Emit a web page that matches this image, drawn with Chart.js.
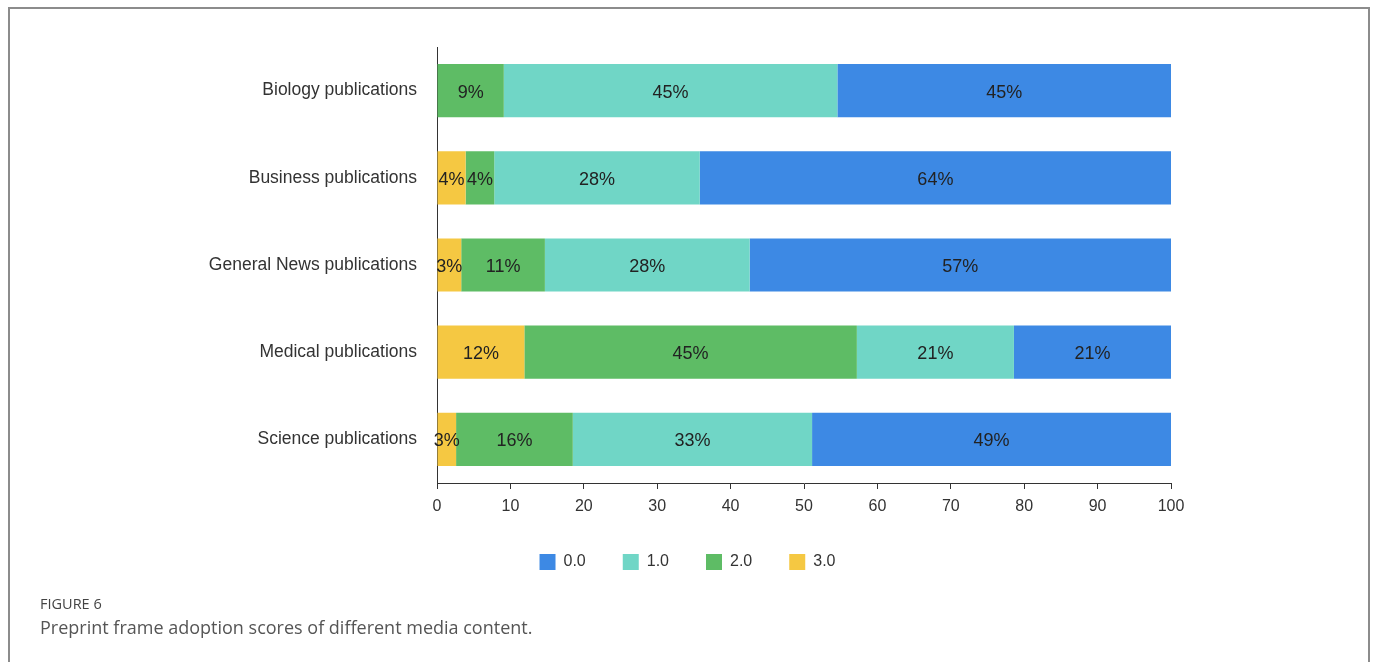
<!DOCTYPE html>
<html>
<head>
<meta charset="utf-8">
<script src="https://cdn.jsdelivr.net/npm/chart.js@4.4.1/dist/chart.umd.min.js"></script>
<style>
  html, body { margin: 0; padding: 0; background: #fff; width: 1375px; height: 662px; overflow: hidden; }
  #frame { position: absolute; left: 8px; top: 7px; width: 1362px; height: 680px; border: 2px solid #8c8c8c; box-sizing: border-box; }
  #wrap { position: absolute; left: 0; top: 0; width: 1375px; height: 600px; }
  #figLabel { position: absolute; left: 40px; top: 594px; font: 500 14.5px "Open Sans", sans-serif; color: #444; }
  #caption { position: absolute; left: 40px; top: 615px; font: 400 18px "Open Sans", sans-serif; color: #555; }
</style>
</head>
<body>
<div id="frame"></div>
<div id="wrap"><canvas id="chart" width="1375" height="600"></canvas></div>
<div id="figLabel">FIGURE 6</div>
<div id="caption">Preprint frame adoption scores of different media content.</div>
<script>
const categories = [
  "Biology publications",
  "Business publications",
  "General News publications",
  "Medical publications",
  "Science publications"
];
// percentage share of each adoption score, per category
const score0 = [45.45, 64.2, 57.4, 21.4, 48.9];
const score1 = [45.45, 28.0, 27.9, 21.4, 32.6];
const score2 = [9.1, 3.9, 11.4, 45.3, 15.9];
const score3 = [0, 3.9, 3.3, 11.9, 2.6];
const xTicks = [0, 10, 20, 30, 40, 50, 60, 70, 80, 90, 100];

const FONT = '"Liberation Sans", Arial, sans-serif';

// draws the "NN%" text in the middle of each segment
const barLabels = {
  id: "barLabels",
  afterDatasetsDraw(chart) {
    const ctx = chart.ctx;
    ctx.save();
    ctx.font = "18px " + FONT;
    ctx.fillStyle = "#222";
    ctx.textAlign = "center";
    ctx.textBaseline = "middle";
    chart.data.datasets.forEach((ds, i) => {
      const meta = chart.getDatasetMeta(i);
      meta.data.forEach((bar, j) => {
        const v = ds.data[j];
        if (!v) return;
        const p = bar.getCenterPoint();
        ctx.fillText(Math.round(v) + "%", p.x, p.y + 2);
      });
    });
    ctx.restore();
  }
};

const ctx = document.getElementById("chart").getContext("2d");
new Chart(ctx, {
  type: "bar",
  data: {
    labels: categories,
    datasets: [
      // "order" puts score 3 at the left end of the stack
      { label: "0.0", data: score0, backgroundColor: "rgb(61,137,228)", order: 4 },
      { label: "1.0", data: score1, backgroundColor: "rgb(112,214,198)", order: 3 },
      { label: "2.0", data: score2, backgroundColor: "rgb(94,188,101)", order: 2 },
      { label: "3.0", data: score3, backgroundColor: "rgb(245,200,66)", order: 1 }
    ]
  },
  options: {
    indexAxis: "y",
    responsive: false,
    animation: false,
    devicePixelRatio: 1,
    datasets: {
      bar: { categoryPercentage: 1, barPercentage: 0.61, borderWidth: 0 }
    },
    layout: { padding: { left: 204, right: 204, top: 47, bottom: 20 } },
    scales: {
      x: {
        stacked: true,
        min: 0,
        max: 100,
        afterBuildTicks: (s) => { s.ticks = xTicks.map(v => ({ value: v })); },
        afterFit: (s) => { s.height = 34; },
        grid: { drawOnChartArea: false, tickLength: 6, color: "#333", lineWidth: 1 },
        border: { color: "#333", width: 1 },
        ticks: { color: "#333", font: { family: FONT, size: 16 }, padding: 8, maxRotation: 0 }
      },
      y: {
        stacked: true,
        afterFit: (s) => { s.width = 233; },
        grid: { display: false, drawTicks: false },
        border: { color: "#333", width: 1 },
        ticks: { color: "#333", font: { family: FONT, size: 17.5 }, padding: 20 }
      }
    },
    plugins: {
      legend: {
        position: "bottom",
        labels: {
          color: "#333",
          font: { family: FONT, size: 16 },
          boxWidth: 16,
          boxHeight: 16,
          padding: 37,
          sort: (a, b) => a.datasetIndex - b.datasetIndex
        }
      },
      tooltip: { enabled: false }
    }
  },
  plugins: [barLabels]
});
</script>
</body>
</html>
